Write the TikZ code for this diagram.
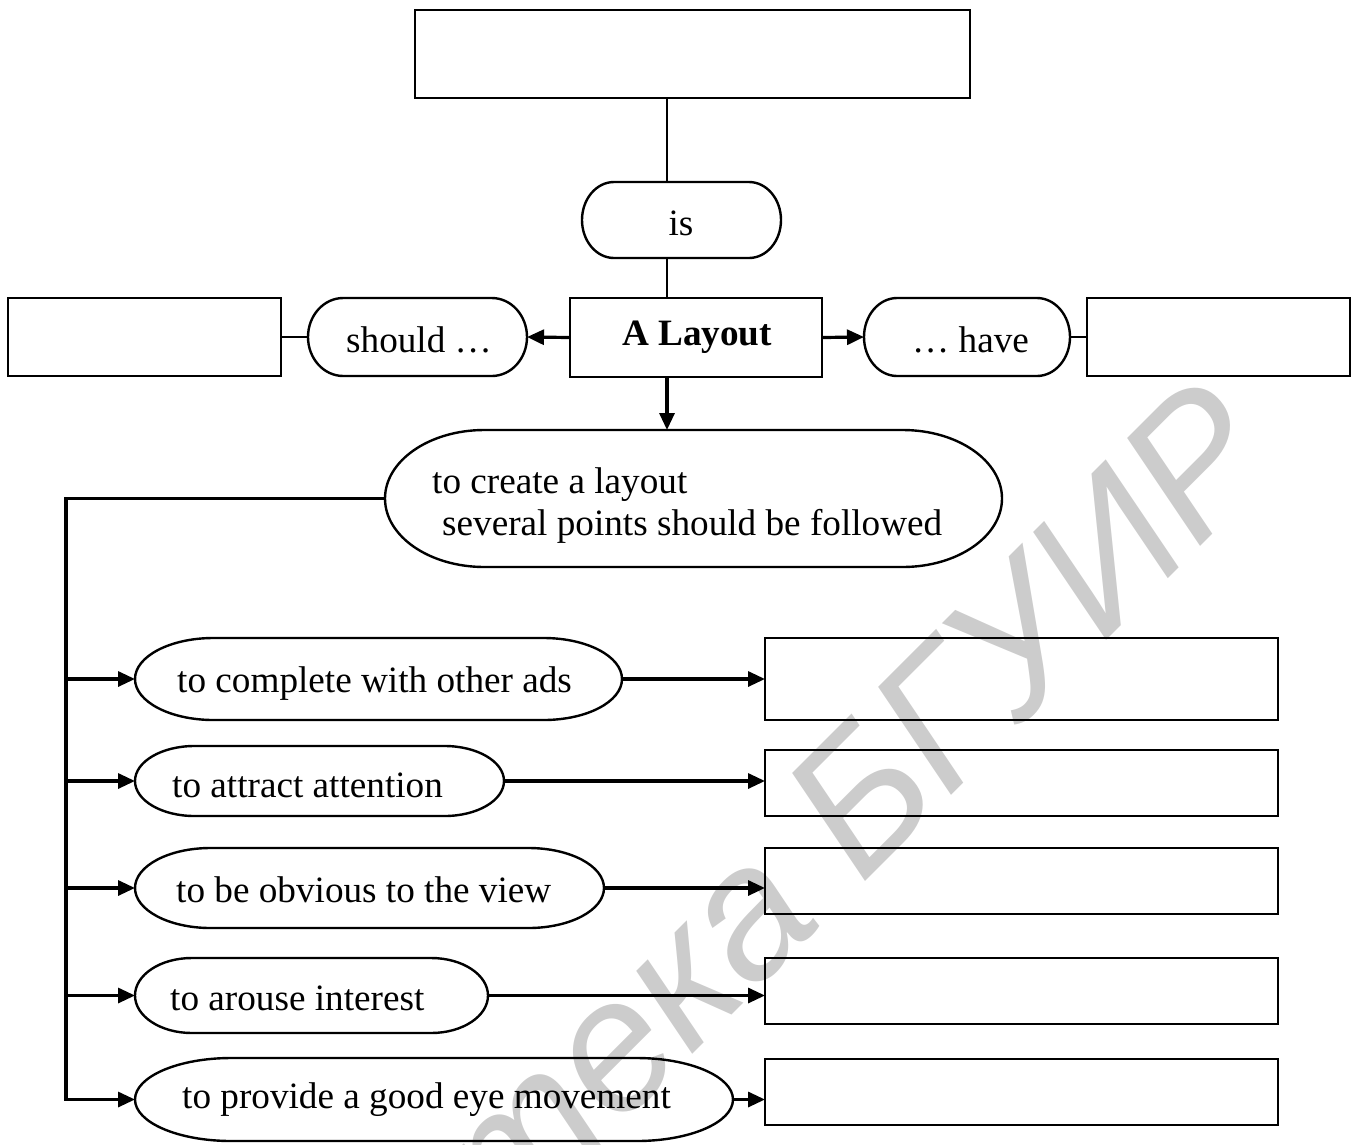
\documentclass[tikz,border=0pt]{standalone}
\usepackage{fontspec}
\setmainfont{Liberation Serif}
\newfontfamily\wmfont{Liberation Sans}
\usetikzlibrary{arrows.meta,calc,fit}

% Outline of a flowchart terminator: straight top and bottom,
% half-elliptic ends whose width is 0.161 of the whole width.
\newcommand\termoutline[1]{%
  \draw[outline] let \p1=(#1.south west), \p2=(#1.north east),
      \n1={0.161*(\x2-\x1)}, \n2={0.5*(\y2-\y1)} in
    (\x1+\n1,\y1) -- (\x2-\n1,\y1)
    arc[start angle=-90, end angle=90, x radius=\n1, y radius=\n2]
    -- (\x1+\n1,\y2)
    arc[start angle=90, end angle=270, x radius=\n1, y radius=\n2]
    -- cycle;}

\begin{document}
\begin{tikzpicture}[x=1pt,y=-1pt,
  outline/.style={draw, line width=2.4pt},
  holder/.style={rectangle, inner sep=0pt, outer sep=0pt},
  box/.style={holder, draw, line width=2.4pt},
  lbl/.style={inner sep=0pt, font=\fontsize{37.2}{42.5}\selectfont},
  link/.style={line width=2.4pt},
  arr/.style={line width=3.2pt, -{Triangle[length=17pt,width=15pt]}},
  wmark/.style={inner sep=0pt, text=black!20,
                font=\wmfont\itshape\fontsize{186}{186}\selectfont}
]
\useasboundingbox (0,0) rectangle (1358,1144);

% library stamp in the background
\begin{scope}
  \clip (0,0) rectangle (1358,1144);
  \node[wmark, rotate=45, anchor=base east] (stamp) at (1285,462) {Библиотека БГУИР};
\end{scope}

% guide lines
\coordinate (spine) at (667,0);
\coordinate (trunk) at (66,0);

% upper part
\node[box, fit={(415,10) (970,98)}] (top) {};
\node[holder, fit={(582,182) (781,258)}] (is) {};
\termoutline{is}
\node[lbl, anchor=base] (istext) at (681,235) {is};

\node[box, fit={(570,298) (822,377)}] (lay) {};
\node[lbl, anchor=base west] (laytext) at (622,345) {\bfseries A Layout};

\node[box, fit={(8,298) (281,376)}] (lbox) {};
\node[holder, fit={(308,298) (527,376)}] (should) {};
\termoutline{should}
\node[lbl, anchor=base west] (shouldtext) at (346,352) {should …};

\node[holder, fit={(864,298) (1070,376)}] (have) {};
\termoutline{have}
\node[lbl, anchor=base west] (havetext) at (912,352) {… have};
\node[box, fit={(1087,298) (1350,376)}] (rbox) {};

\node[holder, fit={(385,430) (1002,567)}] (big) {};
\termoutline{big}
\node[lbl, anchor=base west] (bigtexta) at (432,493) {to create a layout};
\node[lbl, anchor=base west] (bigtextb) at (442,535) {several points should be followed};

% the five points
\node[holder, fit={(135,638) (622,720)}] (t1) {};
\termoutline{t1}
\node[lbl, anchor=base west] (t1text) at (177,692) {to complete with other ads};
\node[holder, fit={(135,746) (504,816)}] (t2) {};
\termoutline{t2}
\node[lbl, anchor=base west] (t2text) at (172,797) {to attract attention};
\node[holder, fit={(135,848) (604,928)}] (t3) {};
\termoutline{t3}
\node[lbl, anchor=base west] (t3text) at (176,902) {to be obvious to the view};
\node[holder, fit={(135,958) (488,1033)}] (t4) {};
\termoutline{t4}
\node[lbl, anchor=base west] (t4text) at (170,1010) {to arouse interest};
\node[holder, fit={(135,1058) (733,1141)}] (t5) {};
\termoutline{t5}
\node[lbl, anchor=base west] (t5text) at (182,1108) {to provide a good eye movement};

\node[box, fit={(765,638) (1278,720)}] (b1) {};
\node[box, fit={(765,750) (1278,816)}] (b2) {};
\node[box, fit={(765,848) (1278,914)}] (b3) {};
\node[box, fit={(765,958) (1278,1024)}] (b4) {};
\node[box, fit={(765,1059) (1278,1125)}] (b5) {};

% connectors
\draw[link] (top.south -| spine) -- (is.north -| spine);
\draw[link] (is.south -| spine) -- (lay.north -| spine);
\draw[arr] (lay.south -| spine) -- (big.north -| spine);
\draw[link] (lbox.east) -- (should.west);
\draw[arr] (lay.west) -- (should.east);
\draw[arr] (lay.east) -- (have.west);
\draw[link] (have.east) -- (rbox.west);

\draw[arr] (big.west) -| (trunk |- t5.west) -- (t5.west);
\foreach \k in {1,2,3,4}{
  \draw[arr] (trunk |- t\k.west) -- (t\k.west);
}
\foreach \k in {1,2,3,4,5}{
  \draw[arr] (t\k.east) -- (t\k.east -| b\k.west);
}
\end{tikzpicture}
\end{document}
